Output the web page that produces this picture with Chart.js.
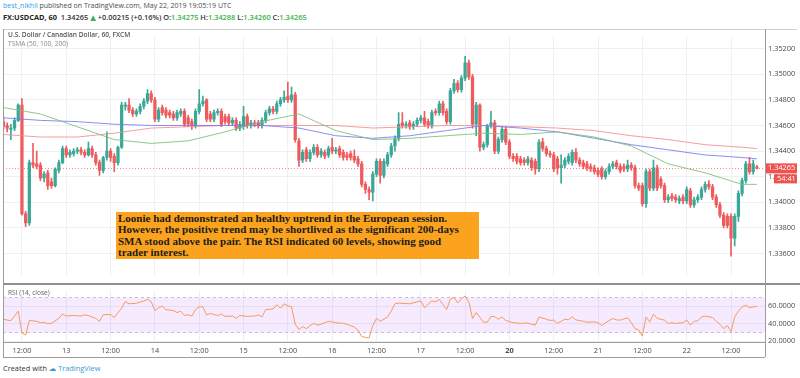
<!DOCTYPE html>
<html>
<head>
<meta charset="utf-8">
<script src="https://cdn.jsdelivr.net/npm/chart.js@4.4.0/dist/chart.umd.min.js"></script>
<style>
  body { margin: 0; width: 800px; height: 378px; background: #fff; position: relative; overflow: hidden; font-family: "Open Sans", "DejaVu Sans", sans-serif; }
  .abs { position: absolute; white-space: nowrap; }
  #h1 { left: 3px; top: 1px; font-size: 7px; color: #4a4a4a; }
  #h1 .user { color: #2f9ee9; }
  #h2 { left: 3px; top: 12px; font-size: 7.4px; color: #333; font-weight: 600; }
  #h2 b { color: #222; font-weight: 700; }
  #h2 .g { color: #3bb34a; }
  #t1 { left: 8px; top: 30px; font-size: 6.6px; color: #555; font-weight: 600; }
  #t2 { left: 8px; top: 39px; font-size: 6.6px; color: #8a8a8a; }
  #rsiLbl { left: 8px; top: 288px; font-size: 6.6px; color: #666; }
  #note { left: 116px; top: 212px; width: 359px; height: 45px; background: #fba31e; padding: 1px 2px;
          font-family: "Liberation Serif", "Times New Roman", serif; font-weight: bold; font-size: 11px;
          line-height: 11.4px; color: #1b1b1b; }
  #foot { left: 3px; top: 363px; font-size: 7.4px; color: #333; }
  #foot .tv { color: #3a9ad9; }
  .ln { position: absolute; background: #9c9c9c; }
  canvas { position: absolute; }
</style>
</head>
<body>
<div class="abs" id="h1"><span class="user">best_nikhil</span> published on TradingView.com, May 22, 2019 19:05:19 UTC</div>
<div class="abs" id="h2"><b>FX:USDCAD, 60</b>&nbsp; 1.34265 <span class="g">&#9650;</span> +0.00215 (+0.16%) O:<span class="g">1.34275</span> H:<span class="g">1.34288</span> L:<span class="g">1.34260</span> C:<span class="g">1.34265</span></div>

<canvas id="mainChart" style="left:3px;top:29px;width:797px;height:254px"></canvas>
<canvas id="rsiChart" style="left:3px;top:283px;width:797px;height:74px"></canvas>

<div class="ln" style="left:3px;top:29px;width:794px;height:1px;background:#cfcfcf"></div>
<div class="ln" style="left:3px;top:29px;width:1px;height:328px"></div>
<div class="ln" style="left:3px;top:283px;width:797px;height:2px;background:#8f8f8f"></div>
<div class="ln" style="left:3px;top:342px;width:762px;height:1px"></div>
<div class="ln" style="left:3px;top:357px;width:762px;height:1px"></div>
<div class="ln" style="left:765px;top:29px;width:1px;height:328px"></div>

<div class="abs" id="t1">U.S. Dollar / Canadian Dollar, 60, FXCM</div>
<div class="abs" id="t2">TSMA (50, 100, 200)</div>
<div class="abs" id="rsiLbl">RSI (14, close)</div>

<div class="abs" id="note">Loonie had demonstrated an healthy uptrend in the European session.<br>However, the positive trend may be shortlived as the significant 200-days<br>SMA stood above the pair. The RSI indicated 60 levels, showing good<br>trader interest.</div>

<div class="abs" id="foot">Created with <span class="tv">&#9729; TradingView</span></div>

<script>
// hourly candles, index 0..204
const opens = [1.3463,1.3460,1.3457,1.3458,1.3464,1.3476,1.3391,1.3384,1.3431,1.3430,
1.3429,1.3419,1.3423,1.3416,1.3413,1.3425,1.3431,1.3442,1.3437,1.3438,
1.3440,1.3441,1.3439,1.3437,1.3442,1.3437,1.3431,1.3425,1.3435,1.3440,
1.3436,1.3431,1.3443,1.3475,1.3476,1.3472,1.3469,1.3471,1.3475,1.3479,
1.3485,1.3480,1.3465,1.3474,1.3472,1.3470,1.3469,1.3466,1.3469,1.3471,
1.3466,1.3463,1.3460,1.3471,1.3477,1.3480,1.3469,1.3465,1.3470,1.3471,
1.3467,1.3467,1.3462,1.3464,1.3458,1.3459,1.3467,1.3460,1.3462,1.3462,
1.3460,1.3464,1.3470,1.3473,1.3471,1.3477,1.3480,1.3483,1.3480,1.3484,
1.3448,1.3433,1.3441,1.3434,1.3439,1.3443,1.3437,1.3439,1.3437,1.3443,
1.3440,1.3442,1.3439,1.3437,1.3438,1.3436,1.3434,1.3430,1.3414,1.3410,
1.3408,1.3422,1.3432,1.3421,1.3430,1.3437,1.3444,1.3450,1.3462,1.3460,
1.3462,1.3459,1.3461,1.3464,1.3466,1.3463,1.3460,1.3471,1.3470,1.3477,
1.3471,1.3463,1.3487,1.3493,1.3488,1.3497,1.3509,1.3498,1.3461,1.3476,
1.3443,1.3445,1.3460,1.3462,1.3440,1.3449,1.3457,1.3447,1.3436,1.3436,
1.3434,1.3433,1.3431,1.3433,1.3432,1.3426,1.3447,1.3442,1.3438,1.3437,
1.3434,1.3427,1.3429,1.3432,1.3431,1.3439,1.3433,1.3431,1.3430,1.3428,
1.3427,1.3425,1.3426,1.3420,1.3424,1.3428,1.3431,1.3428,1.3428,1.3426,
1.3429,1.3427,1.3413,1.3413,1.3399,1.3424,1.3411,1.3427,1.3418,1.3413,
1.3402,1.3405,1.3404,1.3401,1.3404,1.3401,1.3409,1.3398,1.3402,1.3404,
1.3410,1.3414,1.3412,1.3404,1.3398,1.3390,1.3389,1.3389,1.3372,1.3389,
1.3407,1.3417,1.3430,1.3424,1.34275];
const highs = [1.3467,1.3462,1.3461,1.3466,1.3477,1.3481,1.3393,1.3433,1.3446,1.3440,
1.3431,1.3424,1.3425,1.3419,1.3427,1.3433,1.3444,1.3444,1.3441,1.3442,
1.3443,1.3443,1.3441,1.3447,1.3444,1.3439,1.3433,1.3436,1.3455,1.3442,
1.3438,1.3444,1.3478,1.3478,1.3481,1.3474,1.3473,1.3477,1.3481,1.3488,
1.3487,1.3482,1.3474,1.3476,1.3474,1.3472,1.3471,1.3472,1.3473,1.3473,
1.3468,1.3465,1.3473,1.3488,1.3483,1.3481,1.3471,1.3472,1.3473,1.3473,
1.3469,1.3469,1.3466,1.3466,1.3463,1.3475,1.3469,1.3464,1.3464,1.3464,
1.3466,1.3472,1.3475,1.3475,1.3479,1.3482,1.3487,1.3494,1.3490,1.3486,
1.3450,1.3441,1.3443,1.3441,1.3445,1.3445,1.3442,1.3441,1.3444,1.3450,
1.3443,1.3444,1.3441,1.3439,1.3440,1.3441,1.3436,1.3432,1.3416,1.3412,
1.3424,1.3434,1.3434,1.3434,1.3439,1.3446,1.3452,1.3470,1.3470,1.3463,
1.3464,1.3463,1.3466,1.3468,1.3471,1.3465,1.3472,1.3473,1.3479,1.3479,
1.3473,1.3489,1.3496,1.3495,1.3499,1.3514,1.3511,1.3500,1.3478,1.3477,
1.3447,1.3461,1.3471,1.3464,1.3451,1.3459,1.3459,1.3449,1.3438,1.3438,
1.3436,1.3435,1.3436,1.3435,1.3434,1.3449,1.3450,1.3444,1.3440,1.3439,
1.3436,1.3437,1.3435,1.3438,1.3441,1.3442,1.3435,1.3433,1.3432,1.3430,
1.3429,1.3427,1.3428,1.3426,1.3430,1.3432,1.3433,1.3430,1.3430,1.3433,
1.3431,1.3429,1.3415,1.3415,1.3426,1.3426,1.3433,1.3429,1.3420,1.3415,
1.3406,1.3407,1.3406,1.3405,1.3406,1.3412,1.3411,1.3404,1.3406,1.3412,
1.3416,1.3417,1.3414,1.3406,1.3400,1.3392,1.3391,1.3391,1.3391,1.3409,
1.3419,1.3432,1.3435,1.3433,1.34288];
const lows = [1.3457,1.3455,1.3449,1.3456,1.3463,1.3390,1.3381,1.3382,1.3427,1.3426,
1.3417,1.3416,1.3410,1.3411,1.3412,1.3423,1.3430,1.3435,1.3435,1.3436,
1.3438,1.3437,1.3435,1.3436,1.3435,1.3429,1.3421,1.3423,1.3433,1.3432,
1.3424,1.3429,1.3442,1.3472,1.3470,1.3467,1.3467,1.3469,1.3473,1.3477,
1.3478,1.3463,1.3463,1.3468,1.3466,1.3466,1.3464,1.3464,1.3467,1.3459,
1.3459,1.3457,1.3458,1.3469,1.3475,1.3463,1.3463,1.3463,1.3468,1.3459,
1.3461,1.3460,1.3460,1.3456,1.3456,1.3457,1.3458,1.3458,1.3459,1.3458,
1.3458,1.3462,1.3468,1.3469,1.3469,1.3475,1.3478,1.3478,1.3478,1.3447,
1.3428,1.3431,1.3432,1.3432,1.3437,1.3435,1.3435,1.3434,1.3435,1.3438,
1.3438,1.3435,1.3433,1.3433,1.3433,1.3431,1.3428,1.3412,1.3407,1.3402,
1.3401,1.3420,1.3415,1.3419,1.3428,1.3435,1.3440,1.3448,1.3458,1.3458,
1.3457,1.3457,1.3459,1.3462,1.3459,1.3458,1.3458,1.3468,1.3468,1.3468,
1.3461,1.3461,1.3485,1.3486,1.3486,1.3495,1.3496,1.3458,1.3452,1.3440,
1.3441,1.3443,1.3458,1.3438,1.3438,1.3447,1.3445,1.3434,1.3432,1.3430,
1.3429,1.3429,1.3429,1.3425,1.3422,1.3424,1.3440,1.3436,1.3435,1.3424,
1.3422,1.3415,1.3427,1.3430,1.3429,1.3431,1.3428,1.3426,1.3425,1.3424,
1.3422,1.3420,1.3418,1.3418,1.3422,1.3426,1.3426,1.3423,1.3424,1.3424,
1.3425,1.3411,1.3409,1.3397,1.3396,1.3409,1.3409,1.3409,1.3411,1.3400,
1.3400,1.3401,1.3400,1.3399,1.3399,1.3399,1.3396,1.3396,1.3400,1.3402,
1.3408,1.3410,1.3402,1.3396,1.3388,1.3380,1.3380,1.3358,1.3366,1.3385,
1.3405,1.3415,1.3422,1.3422,1.34260];
const closes = [1.3459,1.3458,1.3458,1.3464,1.3476,1.3391,1.3384,1.3431,1.3429,1.3428,
1.3419,1.3422,1.3413,1.3413,1.3426,1.3431,1.3442,1.3437,1.3439,1.3440,
1.3441,1.3439,1.3437,1.3442,1.3437,1.3431,1.3425,1.3435,1.3440,1.3435,
1.3431,1.3443,1.3476,1.3476,1.3472,1.3469,1.3471,1.3475,1.3479,1.3485,
1.3480,1.3465,1.3472,1.3470,1.3468,1.3468,1.3466,1.3470,1.3471,1.3461,
1.3461,1.3460,1.3471,1.3477,1.3479,1.3465,1.3465,1.3470,1.3471,1.3461,
1.3463,1.3462,1.3464,1.3458,1.3461,1.3467,1.3460,1.3462,1.3461,1.3460,
1.3464,1.3470,1.3473,1.3471,1.3477,1.3480,1.3482,1.3480,1.3484,1.3449,
1.3433,1.3439,1.3434,1.3439,1.3443,1.3437,1.3440,1.3436,1.3442,1.3440,
1.3441,1.3437,1.3435,1.3435,1.3435,1.3433,1.3430,1.3414,1.3410,1.3408,
1.3422,1.3432,1.3421,1.3432,1.3437,1.3444,1.3450,1.3461,1.3460,1.3461,
1.3459,1.3461,1.3464,1.3466,1.3461,1.3460,1.3470,1.3470,1.3477,1.3470,
1.3463,1.3487,1.3493,1.3488,1.3497,1.3509,1.3498,1.3461,1.3476,1.3443,
1.3445,1.3460,1.3462,1.3440,1.3449,1.3457,1.3447,1.3436,1.3434,1.3432,
1.3431,1.3431,1.3434,1.3427,1.3426,1.3447,1.3442,1.3438,1.3437,1.3426,
1.3427,1.3429,1.3433,1.3436,1.3439,1.3433,1.3430,1.3428,1.3427,1.3426,
1.3424,1.3422,1.3420,1.3424,1.3428,1.3430,1.3428,1.3425,1.3426,1.3429,
1.3427,1.3413,1.3411,1.3399,1.3424,1.3411,1.3427,1.3411,1.3413,1.3402,
1.3404,1.3403,1.3402,1.3403,1.3401,1.3410,1.3398,1.3402,1.3404,1.3410,
1.3414,1.3412,1.3404,1.3398,1.3390,1.3382,1.3382,1.3372,1.3389,1.3407,
1.3417,1.3430,1.3424,1.3430,1.34265];

// moving averages read at every 10th bar
const maIdx  = [0,10,20,30,40,50,60,70,80,90,100,110,120,130,140,150,160,170,180,190,200,204];
const sma50  = [1.3474,1.3469,1.3459,1.3449,1.3446,1.3448,1.3455,1.3463,1.3469,1.3456,1.3449,1.3450,1.3452,1.3454,1.3453,1.3455,1.3451,1.3444,1.3430,1.3423,1.3414,1.3414];
const sma100 = [1.3466,1.3464,1.3463,1.3461,1.3460,1.3460,1.3460,1.3460,1.3458,1.3452,1.3450,1.3452,1.3456,1.3460,1.3458,1.3455,1.3450,1.3445,1.3441,1.3437,1.3435,1.3434];
const sma200 = [1.3453,1.3451,1.3451,1.3454,1.3458,1.3459,1.3460,1.3460,1.3460,1.3460,1.3458,1.3459,1.3460,1.3460,1.3459,1.3458,1.3456,1.3452,1.3449,1.3445,1.3443,1.3442];

// RSI (14) readings
const rsiIdx = [0,2,4,5,6,7,9,10,11,12,13,15,16,17,19,21,22,23,25,26,27,29,30,32,33,34,36,38,39,40,
41,42,43,44,46,47,48,49,50,51,52,53,54,55,56,58,59,60,62,63,64,66,68,69,70,71,73,74,75,76,
77,78,79,80,81,82,83,84,85,86,88,89,90,92,93,94,95,96,97,98,99,100,101,102,104,105,106,107,110,113,
114,116,117,118,120,121,122,123,124,125,126,127,128,130,131,132,133,134,135,136,138,140,142,143,144,145,147,148,149,150,
151,152,153,154,155,157,158,160,161,162,163,165,166,167,169,170,171,172,173,174,175,176,177,179,180,181,182,184,185,186,
187,188,189,190,192,193,194,195,196,197,198,199,200,201,202,204];
const rsiVal = [45,43.3,54.3,29.3,27,43.7,42.7,41,41.5,40,40.5,46,51,48.7,49.3,48.7,50,49.3,46,42.7,50.3,50.3,47,57.7,65.3,62.7,63.3,66,67.7,65,
55,58.3,60,56,55,52.7,54.3,49.3,50.3,48.7,56,59.3,59.3,50,51.7,49.3,51,48.3,48.7,46,49.3,48.3,48.7,50,47.7,56,56.7,61.7,57.7,62.7,
60.3,59.3,39.3,33.3,36.7,34.3,37.7,40.3,38.3,39.3,42.7,42,41,40.3,39.3,37.7,36,32.7,25.3,24.3,23.7,37.7,46,42.7,47.7,54.3,62.7,63.5,62.7,66,
58.3,66,65,67.7,56,68.3,70,63.7,68.3,71.7,65,46,52.7,41.7,41.7,48.3,48,45,47.7,43.7,41,40.3,40.7,39.3,38.3,47.7,45,43.7,44,40.3,
42.7,45,44.5,47.7,44.3,42.7,41.7,42,41,37.7,41,46,44.3,44,46.7,41,34.3,32.7,26,47.7,42,51,46,44,40.3,41,40.3,41,44.3,38.3,
42.7,43.3,47.7,48.7,47,42.7,39.3,34.3,37.7,31,47.7,54.3,59.3,61,58.3,60];

// time axis
const labelIdx = [5,17,29,41,53,65,77,89,101,113,125,137,149,161,173,185,197];
const timeLabels = ['12:00','13','12:00','14','12:00','15','12:00','16','12:00','17','12:00','20','12:00','21','12:00','22','12:00'];
const priceTicks = [1.336,1.338,1.340,1.342,1.344,1.346,1.348,1.350,1.352];
const rsiTicks = [20,40,60];

const UP = '#3aa896', DOWN = '#ef5a5d';
const GRID = '#edf1f6';
const X_MIN = -0.13, X_MAX = 206.2;
const FONT = '"Open Sans", "DejaVu Sans", sans-serif';

const candleColors = closes.map((c, i) => c >= opens[i] ? UP : DOWN);
const wickData = closes.map((c, i) => ({x: i, y: [lows[i], highs[i]]}));
const bodyData = closes.map((c, i) => ({x: i, y: [opens[i], c]}));
const maData = arr => arr.map((v, k) => ({x: maIdx[k], y: v}));

const lastClose = closes[closes.length - 1];

const priceLine = {
  id: 'priceLine',
  beforeDatasetsDraw(chart) {
    const {ctx, chartArea: a, scales: {y}} = chart;
    const py = Math.round(y.getPixelForValue(lastClose)) + 0.5;
    ctx.save();
    ctx.strokeStyle = '#f28b8b';
    ctx.lineWidth = 1;
    ctx.setLineDash([1, 2]);
    ctx.beginPath();
    ctx.moveTo(a.left, py);
    ctx.lineTo(a.right, py);
    ctx.stroke();
    ctx.restore();
  },
  afterDraw(chart) {
    const {ctx, chartArea: a, scales: {y}} = chart;
    const py = y.getPixelForValue(lastClose);
    ctx.save();
    ctx.fillStyle = '#ef5350';
    ctx.fillRect(a.right + 1, py - 5, 31, 10);
    ctx.fillRect(a.right + 9, py + 6, 23, 9);
    ctx.fillStyle = '#fff';
    ctx.font = '7.4px ' + FONT;
    ctx.textBaseline = 'middle';
    ctx.fillText(lastClose.toFixed(5), a.right + 3, py);
    ctx.fillText('54:41', a.right + 12, py + 10.5);
    ctx.restore();
  }
};

new Chart(document.getElementById('mainChart'), {
  type: 'bar',
  data: {
    datasets: [
      {type: 'line', data: maData(sma50), borderColor: 'rgba(120,190,120,0.85)', borderWidth: 1, pointRadius: 0, order: 0},
      {type: 'line', data: maData(sma100), borderColor: 'rgba(120,120,245,0.85)', borderWidth: 1, pointRadius: 0, order: 0},
      {type: 'line', data: maData(sma200), borderColor: 'rgba(245,140,140,0.85)', borderWidth: 1, pointRadius: 0, order: 0},
      {data: bodyData, backgroundColor: candleColors, barThickness: 2.6, minBarLength: 1, grouped: false, order: 1},
      {data: wickData, backgroundColor: candleColors, barThickness: 1, grouped: false, order: 2}
    ]
  },
  options: {
    responsive: false,
    animation: false,
    events: [],
    layout: {padding: 0},
    plugins: {legend: {display: false}, tooltip: {enabled: false}},
    scales: {
      x: {
        type: 'linear', min: X_MIN, max: X_MAX, offset: false,
        afterBuildTicks: s => { s.ticks = labelIdx.map(v => ({value: v})); },
        afterFit: s => { s.height = 0; },
        ticks: {display: false},
        grid: {color: GRID, drawTicks: false, offset: false},
        border: {display: false}
      },
      y: {
        position: 'right', min: 1.334279, max: 1.352956,
        afterBuildTicks: s => { s.ticks = priceTicks.map(v => ({value: v})); },
        afterFit: s => { s.width = 35; },
        ticks: {callback: v => v.toFixed(5), color: '#4a4a4a', padding: 3, font: {size: 7.4, family: FONT}},
        grid: {color: GRID, drawTicks: false},
        border: {display: false}
      }
    }
  },
  plugins: [priceLine]
});

const rsiBand = {
  id: 'rsiBand',
  beforeDatasetsDraw(chart) {
    const {ctx, chartArea: a, scales: {y}} = chart;
    const y70 = Math.round(y.getPixelForValue(70)) + 0.5;
    const y30 = Math.round(y.getPixelForValue(30)) + 0.5;
    ctx.save();
    ctx.fillStyle = 'rgba(153,21,255,0.09)';
    ctx.fillRect(a.left, y70, a.right - a.left, y30 - y70);
    ctx.strokeStyle = '#c9bcd8';
    ctx.lineWidth = 1;
    ctx.setLineDash([3, 3]);
    [y70, y30].forEach(py => {
      ctx.beginPath();
      ctx.moveTo(a.left, py);
      ctx.lineTo(a.right, py);
      ctx.stroke();
    });
    ctx.restore();
  }
};

new Chart(document.getElementById('rsiChart'), {
  type: 'line',
  data: {
    datasets: [{
      data: rsiIdx.map((v, k) => ({x: v, y: rsiVal[k]})),
      borderColor: '#f79a5b', borderWidth: 1, pointRadius: 0, tension: 0
    }]
  },
  options: {
    responsive: false,
    animation: false,
    events: [],
    layout: {padding: 0},
    plugins: {legend: {display: false}, tooltip: {enabled: false}},
    scales: {
      x: {
        type: 'linear', min: X_MIN, max: X_MAX, offset: false,
        afterBuildTicks: s => { s.ticks = labelIdx.map(v => ({value: v})); },
        afterFit: s => { s.height = 15; },
        ticks: {
          autoSkip: false, maxRotation: 0, padding: 4, color: '#4a4a4a',
          callback: v => { const k = labelIdx.indexOf(v); return k >= 0 ? timeLabels[k] : ''; },
          font: c => ({size: 7.4, family: FONT, weight: (c.tick && c.tick.value === 137) ? 'bold' : 'normal'})
        },
        grid: {color: GRID, drawTicks: false},
        border: {display: false}
      },
      y: {
        position: 'right', min: 19, max: 78,
        afterBuildTicks: s => { s.ticks = rsiTicks.map(v => ({value: v})); },
        afterFit: s => { s.width = 35; },
        ticks: {callback: v => v.toFixed(4), color: '#4a4a4a', padding: 3, font: {size: 7.4, family: FONT}},
        grid: {color: GRID, drawTicks: false},
        border: {display: false}
      }
    }
  },
  plugins: [rsiBand]
});
</script>
</body>
</html>
